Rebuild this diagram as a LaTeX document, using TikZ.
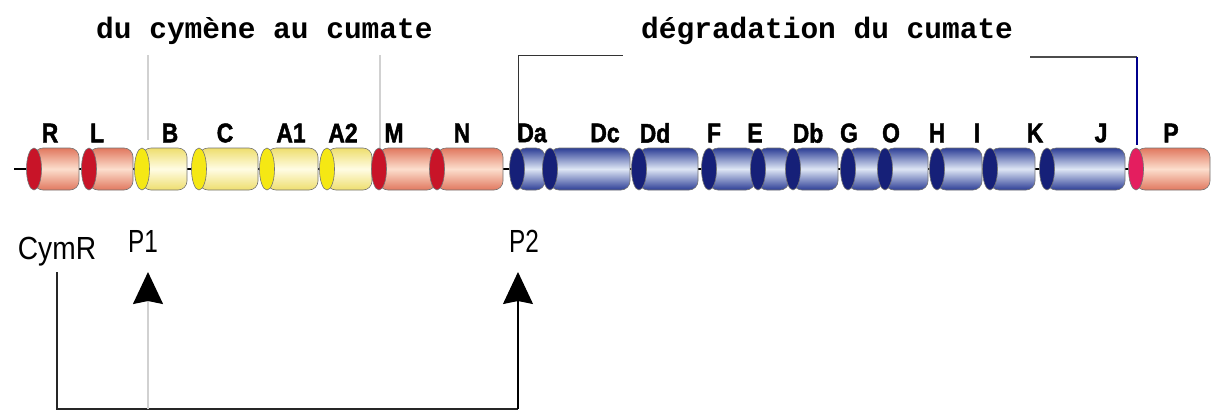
\documentclass[tikz,border=0pt]{standalone}
\usepackage{fontspec}
\setmainfont{Liberation Sans}
\newfontfamily\monofont{Liberation Mono}
\newfontfamily\lblfont{Liberation Sans}[FakeStretch=0.85, BoldFeatures={FakeBold=1.6}]
\newfontfamily\narrowfont{Liberation Sans}[FakeStretch=0.76]
\newfontfamily\cymfont{Liberation Sans}[FakeStretch=0.88]
\usetikzlibrary{arrows.meta}
\definecolor{redcap}{RGB}{200,20,40}
\definecolor{rededge}{RGB}{225,120,95}
\definecolor{redmid}{RGB}{252,222,205}
\definecolor{yelcap}{RGB}{245,232,20}
\definecolor{yeledge}{RGB}{238,222,110}
\definecolor{yelmid}{RGB}{255,252,228}
\definecolor{bluecap}{RGB}{22,32,120}
\definecolor{blueedge}{RGB}{45,62,150}
\definecolor{bluemid}{RGB}{222,230,245}
\definecolor{pinkcap}{RGB}{228,30,95}
\newcommand\genecyl[5]{%
  \draw[draw=black!55, line width=0.6pt, top color=#4, bottom color=#4, middle color=#5, rounded corners=9pt] (#1+7,148) rectangle (#2,190);
  \draw[draw=black!55, line width=0.6pt, fill=#3] (#1+7,169) ellipse [x radius=7.5pt, y radius=21pt];
}
\tikzset{
  lbl/.style={font=\lblfont\bfseries\fontsize{27}{27}\selectfont, inner sep=0pt},
  toptext/.style={font=\monofont\bfseries\fontsize{29.5}{30}\selectfont, inner sep=0pt, anchor=base west},
  promlbl/.style={font=\narrowfont\fontsize{32}{32}\selectfont, inner sep=0pt},
  cymlbl/.style={font=\cymfont\fontsize{32}{32}\selectfont, inner sep=0pt},
  greyline/.style={draw=black!18, line width=1.6pt},
  bigarrow/.style={-{Stealth[length=32pt,width=30pt,inset=3pt,color=black,fill=black]}}
}
\begin{document}
\begin{tikzpicture}[x=1pt,y=-1pt]
\useasboundingbox[fill=white] (0,0) rectangle (1220,413);
% titles
\node[toptext] (t1) at (96,38) {du cymène au cumate};
\node[toptext] (t2) at (641,38) {dégradation du cumate};
% brackets / guide lines
\draw[greyline] (148,55) -- (148,140);
\draw[greyline] (380,55) -- (380,150);
\draw[black!80, line width=1pt] (518,140) -- (518,55) -- (623,55);
\draw[black!70, line width=1.2pt] (1030,57) -- (1137,57);
\draw[blue!55!black, line width=1.2pt] (1137,57) -- (1137,145);
% backbone
\draw[black, line width=1.3pt] (14,169) -- (1135,169);
% genes
\genecyl{27}{79}{redcap}{rededge}{redmid}
\genecyl{82}{133}{redcap}{rededge}{redmid}
\genecyl{135}{187}{yelcap}{yeledge}{yelmid}
\genecyl{192}{258}{yelcap}{yeledge}{yelmid}
\genecyl{260}{318}{yelcap}{yeledge}{yelmid}
\genecyl{320}{372}{yelcap}{yeledge}{yelmid}
\genecyl{372}{436}{redcap}{rededge}{redmid}
\genecyl{430}{503}{redcap}{rededge}{redmid}
\genecyl{510}{545}{bluecap}{blueedge}{bluemid}
\genecyl{543}{630}{bluecap}{blueedge}{bluemid}
\genecyl{632}{698}{bluecap}{blueedge}{bluemid}
\genecyl{702}{755}{bluecap}{blueedge}{bluemid}
\genecyl{751}{789}{bluecap}{blueedge}{bluemid}
\genecyl{786}{838}{bluecap}{blueedge}{bluemid}
\genecyl{841}{882}{bluecap}{blueedge}{bluemid}
\genecyl{878}{928}{bluecap}{blueedge}{bluemid}
\genecyl{930}{982}{bluecap}{blueedge}{bluemid}
\genecyl{983}{1035}{bluecap}{blueedge}{bluemid}
\genecyl{1040}{1125}{bluecap}{blueedge}{bluemid}
\genecyl{1129}{1210}{pinkcap}{rededge}{redmid}
% gene labels
\node[lbl] (lR) at (50,133) {R};
\node[lbl] (lL) at (97,133) {L};
\node[lbl] (lB) at (170,133) {B};
\node[lbl] (lC) at (225,133) {C};
\node[lbl] (lA1) at (291,133) {A1};
\node[lbl] (lA2) at (343,133) {A2};
\node[lbl] (lM) at (394,133) {M};
\node[lbl] (lN) at (462,133) {N};
\node[lbl] (lDa) at (532,133) {Da};
\node[lbl] (lDc) at (605,133) {Dc};
\node[lbl] (lDd) at (655,133) {Dd};
\node[lbl] (lF) at (714,133) {F};
\node[lbl] (lE) at (755,133) {E};
\node[lbl] (lDb) at (808,133) {Db};
\node[lbl] (lG) at (849,133) {G};
\node[lbl] (lO) at (891,133) {O};
\node[lbl] (lH) at (937,133) {H};
\node[lbl] (lI) at (977,133) {I};
\node[lbl] (lK) at (1035,133) {K};
\node[lbl] (lJ) at (1101,133) {J};
\node[lbl] (lP) at (1171,133) {P};
% regulation
\node[cymlbl] (cymr) at (57,252) {CymR};
\node[promlbl] (p1) at (143,241) {P1};
\node[promlbl] (p2) at (524,241) {P2};
\coordinate (cymtop) at (57,272);
\coordinate (corner) at (57,409);
\coordinate (p2foot) at (518,409);
\coordinate (p2tip) at (518,272);
\coordinate (p1foot) at (148,409);
\coordinate (p1tip) at (148,272);
\draw[black!85, line width=1.1pt] (cymtop) -- (corner) -- (p2foot);
\draw[black, line width=1.1pt, bigarrow] (p2foot) -- (p2tip);
\draw[greyline, bigarrow] (p1foot) -- (p1tip);
\end{tikzpicture}
\end{document}
